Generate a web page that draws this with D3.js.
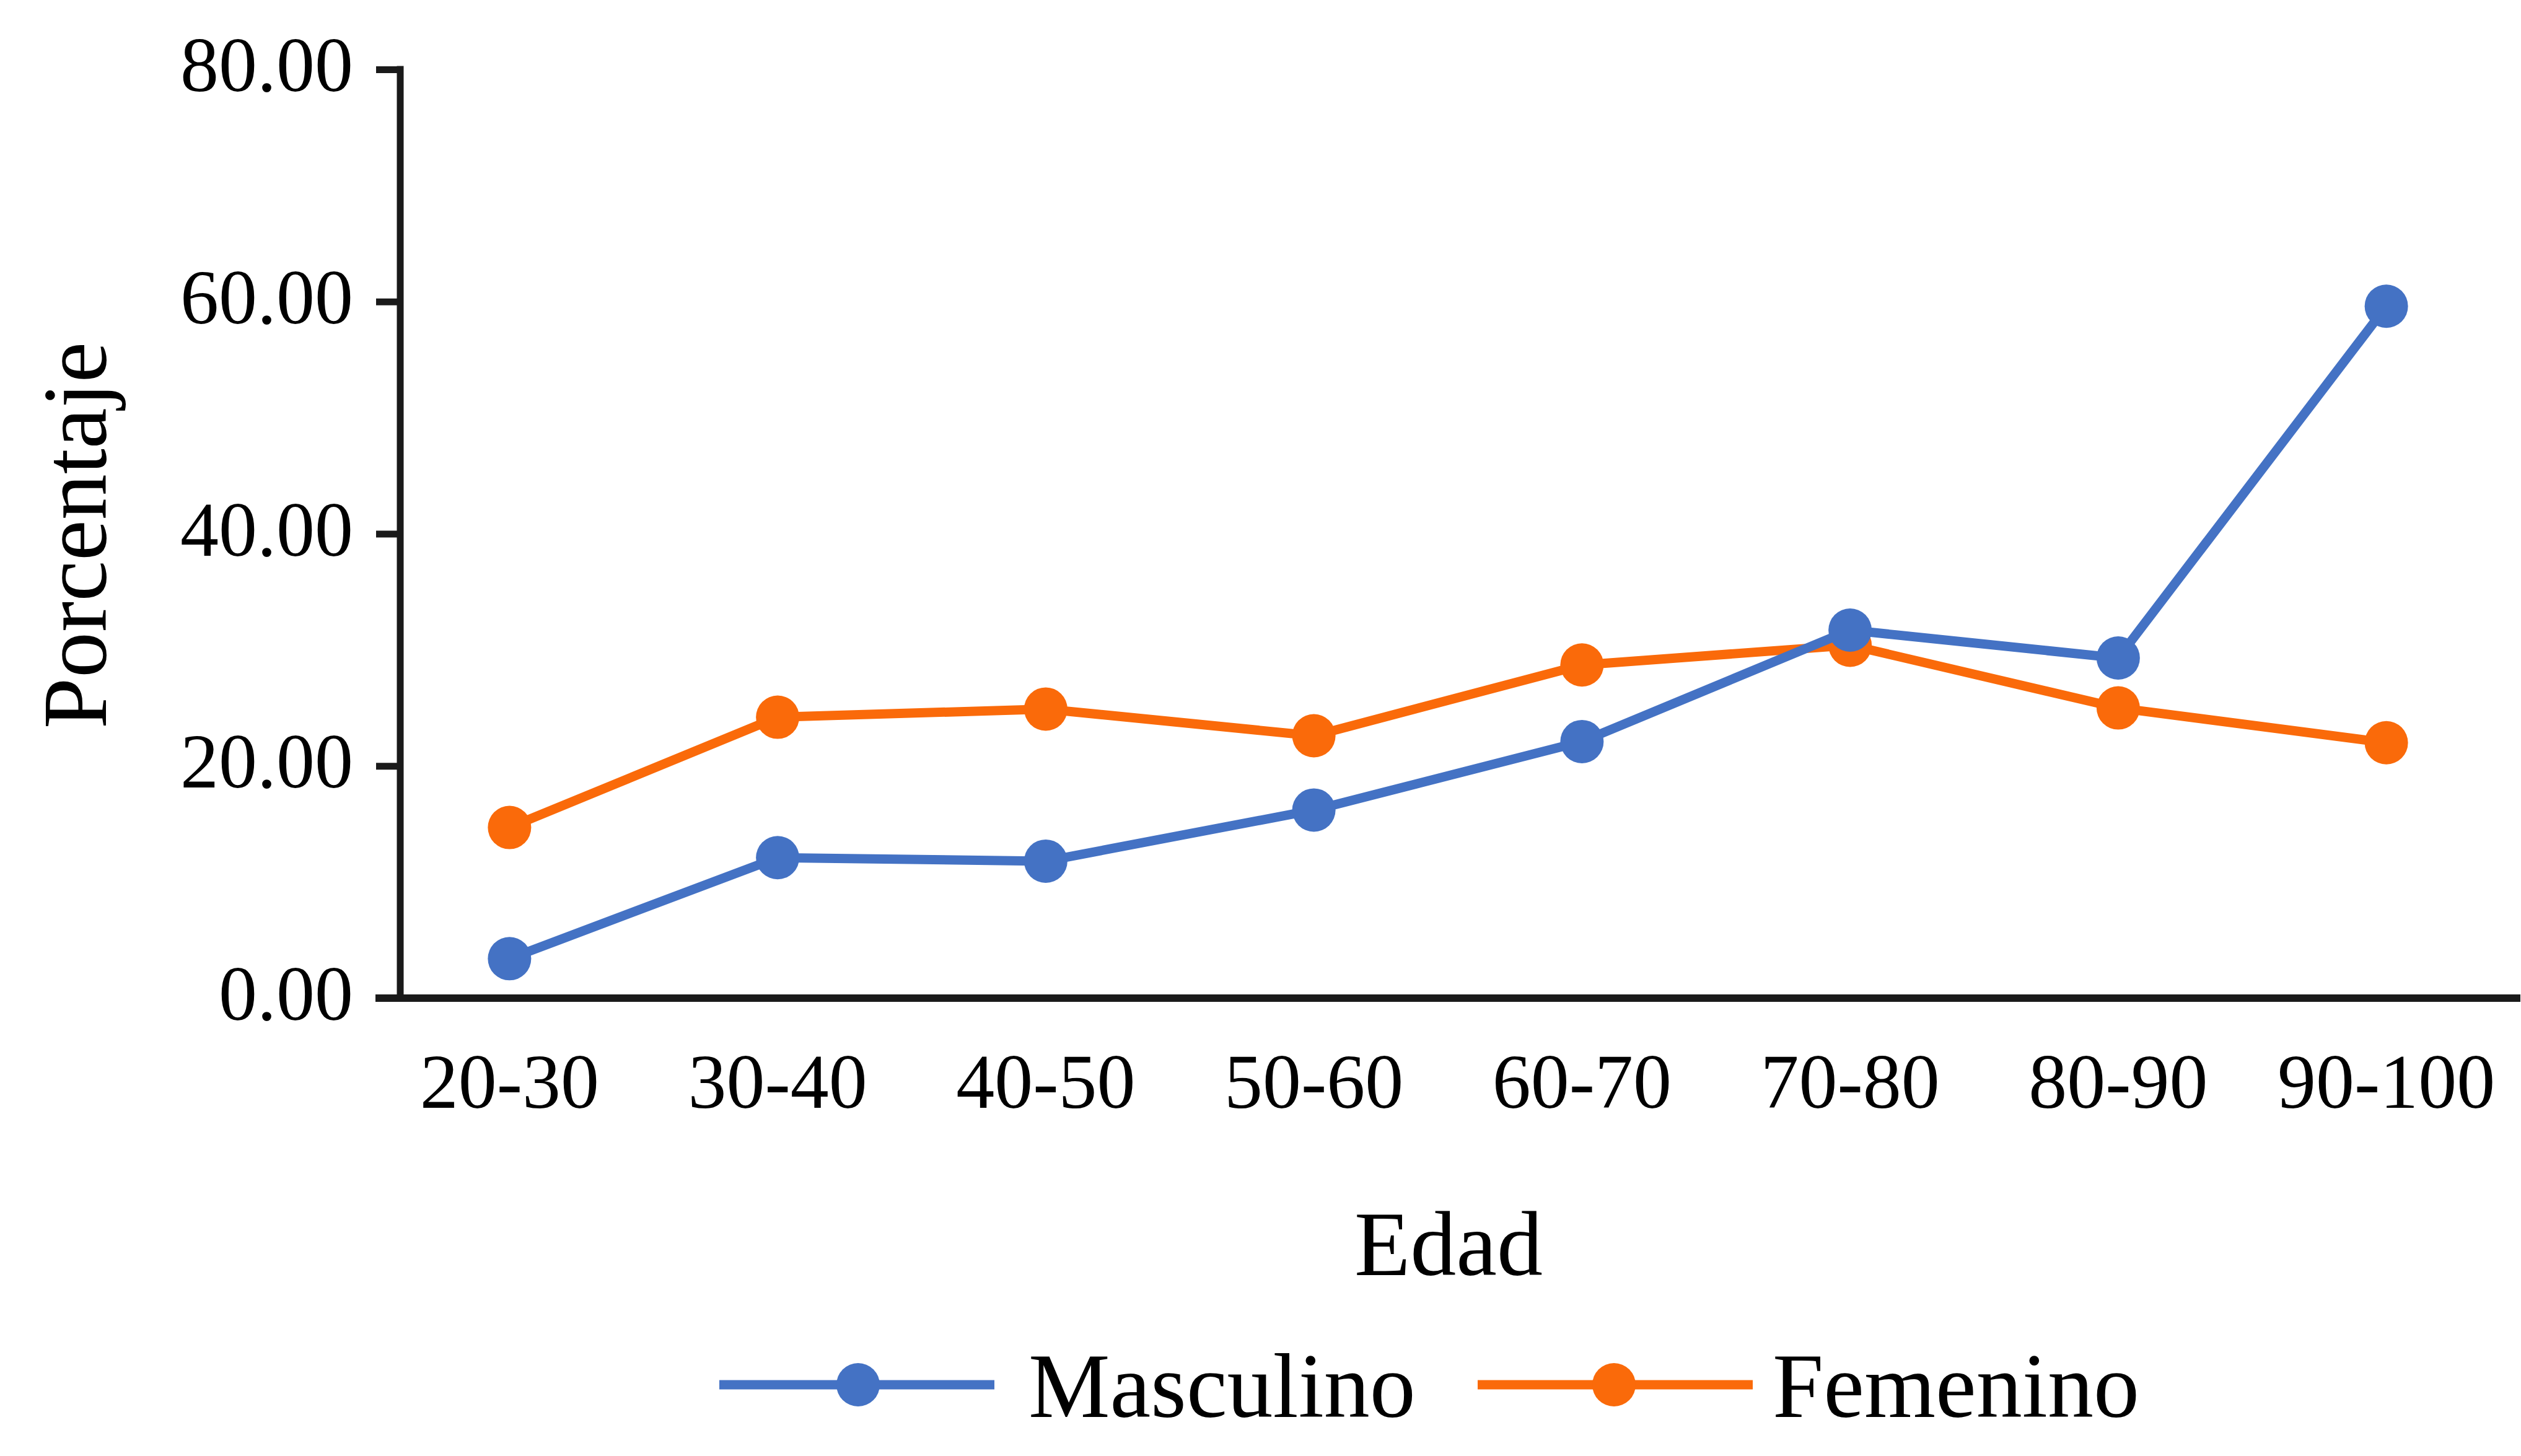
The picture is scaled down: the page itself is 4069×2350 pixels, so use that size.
<!DOCTYPE html>
<html>
<head>
<meta charset="utf-8">
<script src="https://cdn.jsdelivr.net/npm/d3@7"></script>
<style>
  html, body { margin: 0; padding: 0; background: #ffffff; }
  svg { display: block; }
  text { font-family: "Liberation Serif", "Times New Roman", serif; fill: #000; }
</style>
</head>
<body>
<svg id="chart" width="4069" height="2350"></svg>
<script>
// ---- data ----
const categories = ["20-30", "30-40", "40-50", "50-60", "60-70", "70-80", "80-90", "90-100"];
const masculino = [3.4, 12.1, 11.8, 16.2, 22.1, 31.7, 29.3, 59.6];
const femenino  = [14.7, 24.2, 24.9, 22.6, 28.7, 30.4, 25.0, 22.0];
const yTicks = [0, 20, 40, 60, 80];
const seriesNames = ["Masculino", "Femenino"];
const seriesColors = ["#4472C4", "#FA6A0A"];

// ---- layout ----
const W = 4069, H = 2350;
const axisX = 646, baseY = 1611, topY = 112;
const svg = d3.select("#chart");

const x = d3.scaleBand().domain(categories).range([606, 4068]).padding(0);
const y = d3.scaleLinear().domain([0, 80]).range([baseY, topY]);
const cx = d => x(d) + x.bandwidth() / 2;

const axisColor = "#1a1a1a";

// y axis
const yAxis = d3.axisLeft(y).tickValues(yTicks).tickSize(39).tickPadding(0).tickFormat(() => "");
const gy = svg.append("g").attr("transform", `translate(${axisX},0)`).call(yAxis);
gy.select(".domain").remove();
gy.selectAll(".tick line").attr("stroke", axisColor).attr("stroke-width", 11);
gy.append("line").attr("x1", 0).attr("x2", 0).attr("y1", topY - 5.5).attr("y2", baseY)
  .attr("stroke", axisColor).attr("stroke-width", 11);
svg.append("g").selectAll("text").data(yTicks).join("text")
  .attr("x", 570).attr("y", d => y(d) + 35)
  .attr("text-anchor", "end").attr("font-size", 124)
  .text(d => d3.format(".2f")(d));

// x axis
const xAxis = d3.axisBottom(x).tickSize(0).tickFormat(() => "");
const gx = svg.append("g").attr("transform", `translate(0,${baseY})`).call(xAxis);
gx.select(".domain").remove();
gx.append("line").attr("x1", 606).attr("x2", 4068).attr("y1", 0).attr("y2", 0)
  .attr("stroke", axisColor).attr("stroke-width", 12);
svg.append("g").selectAll("text").data(categories).join("text")
  .attr("x", d => cx(d)).attr("y", 1788)
  .attr("text-anchor", "middle").attr("font-size", 124)
  .text(d => d);

// axis titles
svg.append("text").attr("x", 2338).attr("y", 2058).attr("text-anchor", "middle")
  .attr("font-size", 148).text("Edad");
svg.append("text").attr("transform", "translate(171,864) rotate(-90)")
  .attr("text-anchor", "middle").attr("font-size", 148).text("Porcentaje");

// series (Femenino drawn first so Masculino sits on top)
const seriesData = [masculino, femenino];
const line = d3.line().x((d, i) => cx(categories[i])).y(d => y(d));
[1, 0].forEach(s => {
  const g = svg.append("g");
  g.append("path").datum(seriesData[s]).attr("d", line)
    .attr("fill", "none").attr("stroke", seriesColors[s]).attr("stroke-width", 15)
    .attr("stroke-linejoin", "round");
  g.selectAll("circle").data(seriesData[s]).join("circle")
    .attr("cx", (d, i) => cx(categories[i])).attr("cy", d => y(d)).attr("r", 35)
    .attr("fill", seriesColors[s]);
});

// legend
const legendItems = [
  { x1: 1161, x2: 1605, mx: 1385, tx: 1660 },
  { x1: 2385, x2: 2829, mx: 2605, tx: 2861 }
];
const lg = svg.append("g");
legendItems.forEach((it, i) => {
  lg.append("line").attr("x1", it.x1).attr("x2", it.x2).attr("y1", 2235).attr("y2", 2235)
    .attr("stroke", seriesColors[i]).attr("stroke-width", 15);
  lg.append("circle").attr("cx", it.mx).attr("cy", 2235).attr("r", 35).attr("fill", seriesColors[i]);
  lg.append("text").attr("x", it.tx).attr("y", 2287).attr("font-size", 148).text(seriesNames[i]);
});
</script>
</body>
</html>
